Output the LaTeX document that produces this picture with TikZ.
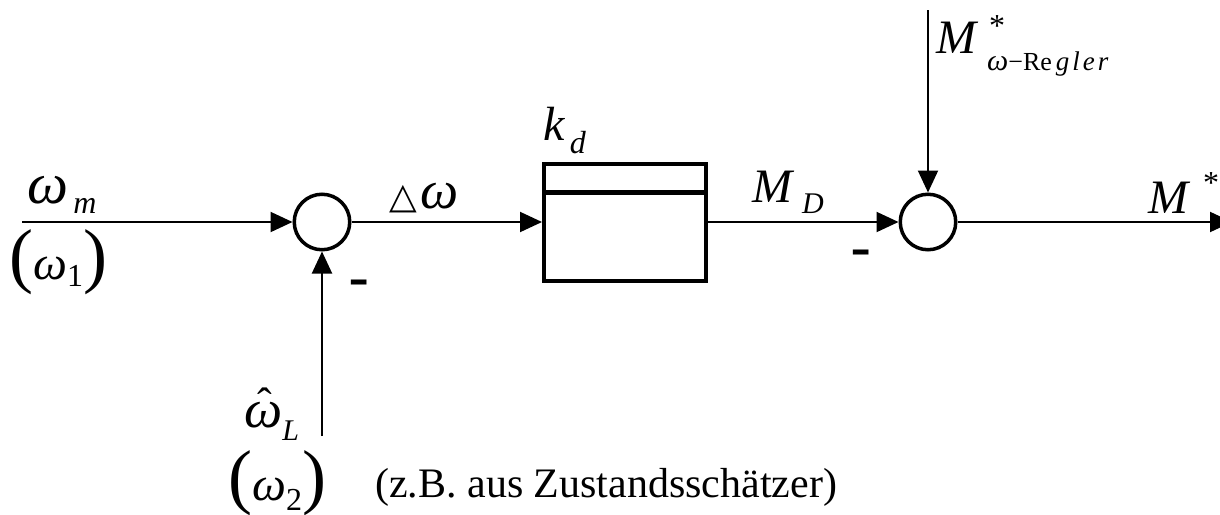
\documentclass[tikz,border=0pt]{standalone}
\usepackage{fontspec}
\setmainfont{Liberation Serif}
\setsansfont{Liberation Sans}
\newfontfamily\symfont{DejaVu Sans}
\usetikzlibrary{arrows.meta}
\newcommand\fs[1]{\fontsize{#1}{#1}\selectfont}
\begin{document}
\begin{tikzpicture}[x=1pt,y=-1pt,
  conn/.style={line width=2pt},
  arr/.style={conn,-{Triangle[length=22pt,width=20pt]}},
  sumnode/.style={circle,draw,line width=3.5pt,minimum size=55.5pt,inner sep=0pt},
  blockbox/.style={draw,line width=4pt,minimum width=162pt,minimum height=117pt,inner sep=0pt},
  lbl/.style={anchor=base west,inner sep=0pt},
  minus/.style={anchor=base west,inner sep=0pt,font=\sffamily\fs{64}}
]
\useasboundingbox (0,0) rectangle (1220,514);

% blocks
\node[sumnode] (s1) at (322,222) {};
\node[sumnode] (s2) at (928,222) {};
\node[blockbox] (blk) at (625,222) {};
\draw[line width=5pt] (blk.west |- 0,192.5) -- (blk.east |- 0,192.5);

% free ends
\coordinate (in1) at (22,222);
\coordinate (in2) at (322,436);
\coordinate (in3) at (928,10);
\coordinate (out) at (1232,222);

% connectors
\draw[arr] (in1) -- (s1);
\draw[arr] (in2) -- (s1);
\draw[arr] (s1) -- (blk);
\draw[arr] (blk) -- (s2);
\draw[arr] (in3) -- (s2);
\draw[arr] (s2) -- (out);

% labels
\node[lbl] (lwm) at (27,203) {\itshape\fs{58}ω\raisebox{-10pt}{\fs{32}\,m}};
\node[lbl] (lw1) at (9,279) {\fs{72}(\itshape\fs{48}ω\raisebox{-7pt}{\upshape\fs{32}1}\upshape\fs{72})};
\node[lbl] (ldelta) at (389,208) {\symfont\fs{36}△};
\node[lbl] (ldw) at (420,208) {\itshape\fs{54}ω};
\node[lbl] (lkd) at (543,140) {\itshape\fs{48}k\raisebox{-13pt}{\fs{32}\,d}};
\node[lbl] (lmd) at (752,202) {\itshape\fs{48}M\hspace{10pt}\raisebox{-11pt}{\fs{30}D}};
\node[lbl] (lmr) at (936,53) {\itshape\fs{48}M};
\node[lbl] (lmrs) at (989,36) {\fs{32}*};
\node[lbl] (lmrsub) at (987,70) {{\itshape\fs{30}ω}{\fs{26}−Re}\hspace{4pt}{\itshape\fs{27}g\hspace{3pt}l\hspace{3pt}e\hspace{3pt}r}};
\node[lbl] (lms) at (1148,213) {\itshape\fs{48}M};
\node[lbl] (lmss) at (1203,193) {\fs{32}*};
\node[lbl] (lwl) at (244,427) {\itshape\fs{54}ω\raisebox{-13pt}{\fs{30}L}};
\node[inner sep=0pt,anchor=north] (lhat) at (265,388) {\fs{44}ˆ};
\node[lbl] (lw2) at (228,500) {\fs{72}(\itshape\fs{48}ω\raisebox{-10pt}{\upshape\fs{32}2}\upshape\fs{72})};
\node[lbl] (lzb) at (375,497) {\fs{42}(z.B. aus Zustandsschätzer)};
\node[minus] (m1) at (348,299) {-};
\node[minus] (m2) at (850,269) {-};
\end{tikzpicture}
\end{document}
